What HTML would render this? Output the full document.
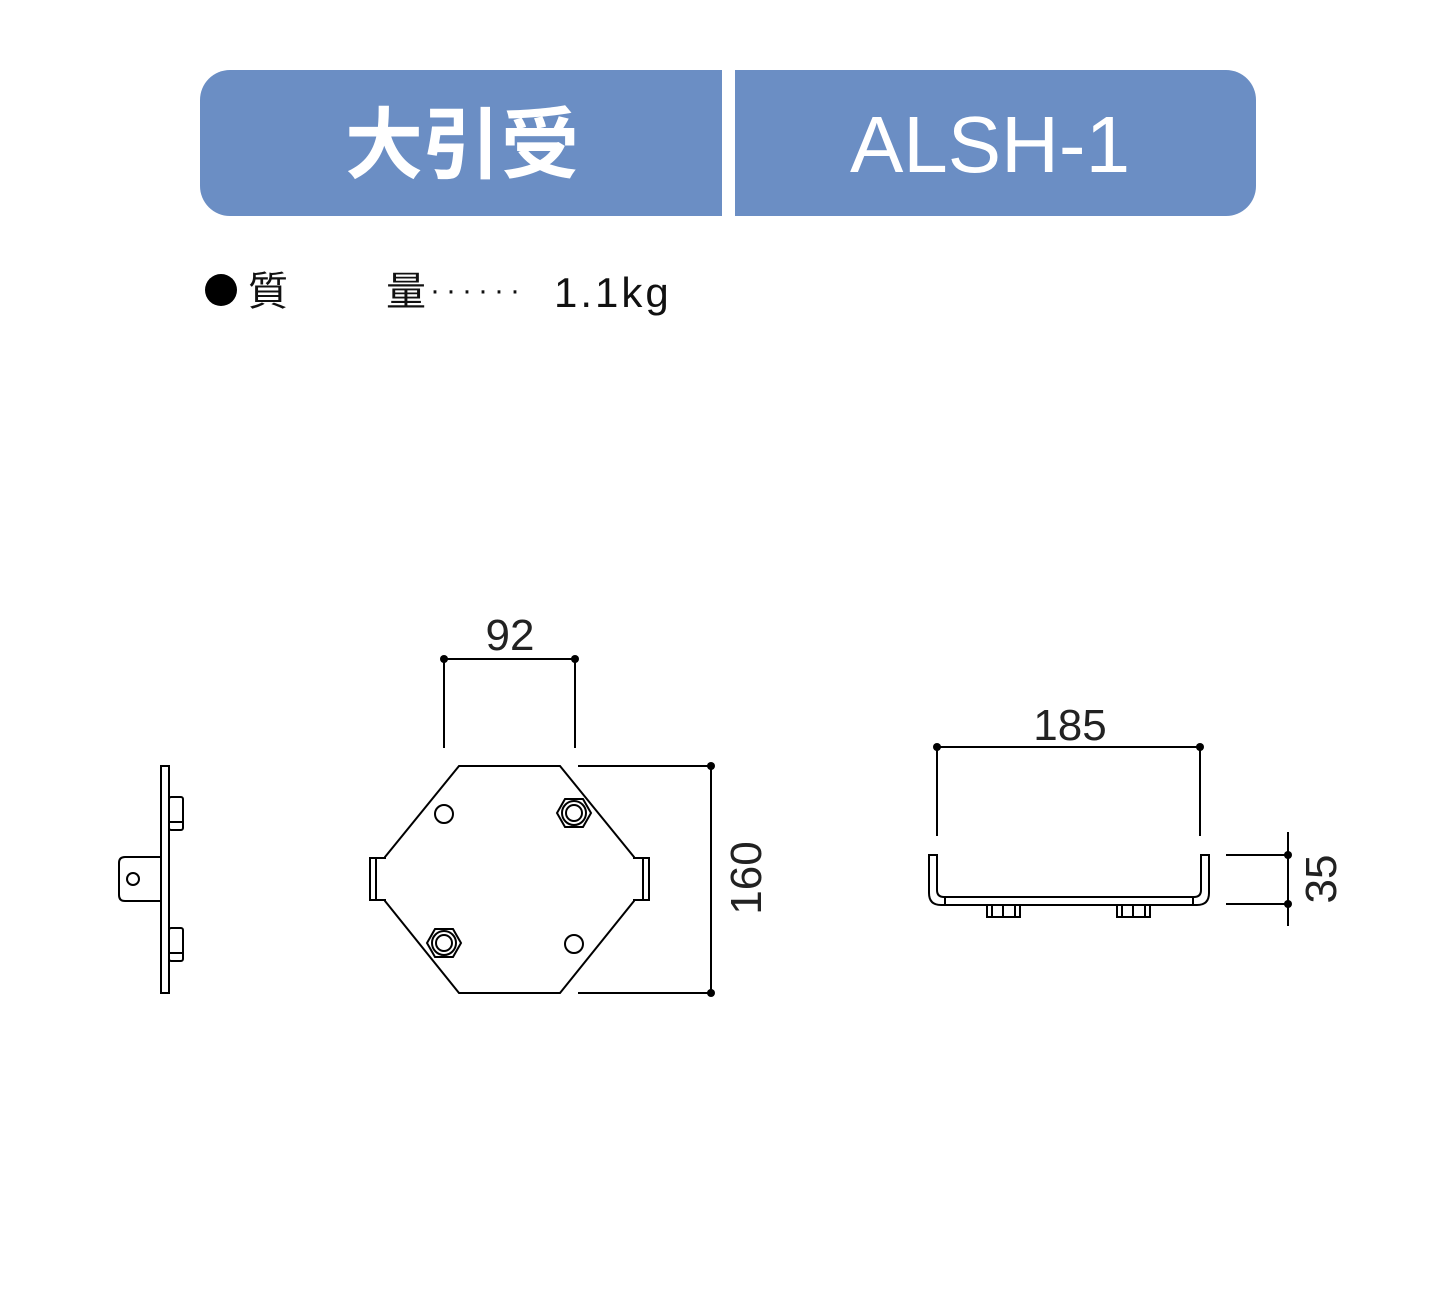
<!DOCTYPE html>
<html><head><meta charset="utf-8"><style>
html,body{margin:0;padding:0;background:#fff;width:1450px;height:1300px;overflow:hidden}
text{font-family:"Liberation Sans","Noto Sans CJK JP",sans-serif}
</style></head><body>
<svg width="1450" height="1300" viewBox="0 0 1450 1300" xmlns="http://www.w3.org/2000/svg">
<rect x="200" y="70" width="1056" height="146" rx="30" fill="#6b8ec4"/>
<rect x="722" y="70" width="13" height="146" fill="#fff"/>
<text x="462" y="172" font-size="78" font-weight="bold" fill="#fff" text-anchor="middle" font-family="Noto Sans CJK JP, sans-serif">大引受</text>
<text x="990" y="172" font-size="80" fill="#fff" text-anchor="middle">ALSH-1</text>

<circle cx="221" cy="290" r="16" fill="#000"/>
<text x="248" y="305" font-size="40" fill="#111">質</text>
<text x="386" y="305" font-size="40" fill="#111">量</text>
<text x="430" y="300" font-size="30" fill="#111" letter-spacing="6">······</text>
<text x="554" y="307" font-size="42" fill="#111" letter-spacing="3">1.1kg</text>

<g fill="none" stroke="#000" stroke-width="2">
<rect x="161" y="766" width="8" height="227"/>
<rect x="169" y="797" width="14" height="33" rx="2"/>
<line x1="169" y1="822" x2="183" y2="822"/>
<rect x="169" y="928" width="14" height="33" rx="2"/>
<line x1="169" y1="953" x2="183" y2="953"/>
<path d="M161 857 H125 Q119 857 119 863 V895 Q119 901 125 901 H161"/>
<circle cx="133" cy="879" r="6"/>

<path d="M459 766 H560 L634 857 V858 H649 V900 H634 V901 L560 993 H459 L385 901 V900 H370 V858 H385 V857 Z"/>
<line x1="376" y1="858" x2="376" y2="900"/>
<line x1="643" y1="858" x2="643" y2="900"/>
<circle cx="444" cy="814" r="9"/>
<circle cx="574" cy="944" r="9"/>
<polygon points="557,813 565,799 583,799 591,813 583,827 565,827"/>
<circle cx="574" cy="813" r="12"/><circle cx="574" cy="813" r="8"/>
<polygon points="427,943 435,929 453,929 461,943 453,957 435,957"/>
<circle cx="444" cy="943" r="12"/><circle cx="444" cy="943" r="8"/>

<line x1="444" y1="659" x2="444" y2="748"/>
<line x1="575" y1="659" x2="575" y2="748"/>
<line x1="444" y1="659" x2="575" y2="659"/>
<line x1="578" y1="766" x2="711" y2="766"/>
<line x1="578" y1="993" x2="711" y2="993"/>
<line x1="711" y1="766" x2="711" y2="993"/>

<path d="M929 855 H937 V890 Q937 897 944 897 H1194 Q1201 897 1201 890 V855 H1209 V893 Q1209 905 1197 905 H941 Q929 905 929 893 Z"/>
<line x1="945" y1="897" x2="945" y2="905"/>
<line x1="1193" y1="897" x2="1193" y2="905"/>
<path d="M987 905 V917 H1020 V905 M992 905 V917 M1003 905 V917 M1015 905 V917"/>
<path d="M1117 905 V917 H1150 V905 M1122 905 V917 M1133 905 V917 M1145 905 V917"/>
<line x1="937" y1="747" x2="937" y2="836"/>
<line x1="1200" y1="747" x2="1200" y2="836"/>
<line x1="937" y1="747" x2="1200" y2="747"/>
<line x1="1226" y1="855" x2="1288" y2="855"/>
<line x1="1226" y1="904" x2="1288" y2="904"/>
<line x1="1288" y1="832" x2="1288" y2="926"/>
</g>
<g fill="#000">
<circle cx="444" cy="659" r="4"/><circle cx="575" cy="659" r="4"/>
<circle cx="711" cy="766" r="4"/><circle cx="711" cy="993" r="4"/>
<circle cx="937" cy="747" r="4"/><circle cx="1200" cy="747" r="4"/>
<circle cx="1288" cy="855" r="4"/><circle cx="1288" cy="904" r="4"/>
</g>
<g font-size="44" fill="#222" text-anchor="middle">
<text x="510" y="650">92</text>
<text x="1070" y="740">185</text>
<text transform="translate(761,878) rotate(-90)">160</text>
<text transform="translate(1336,879) rotate(-90)">35</text>
</g>
</svg>
</body></html>
